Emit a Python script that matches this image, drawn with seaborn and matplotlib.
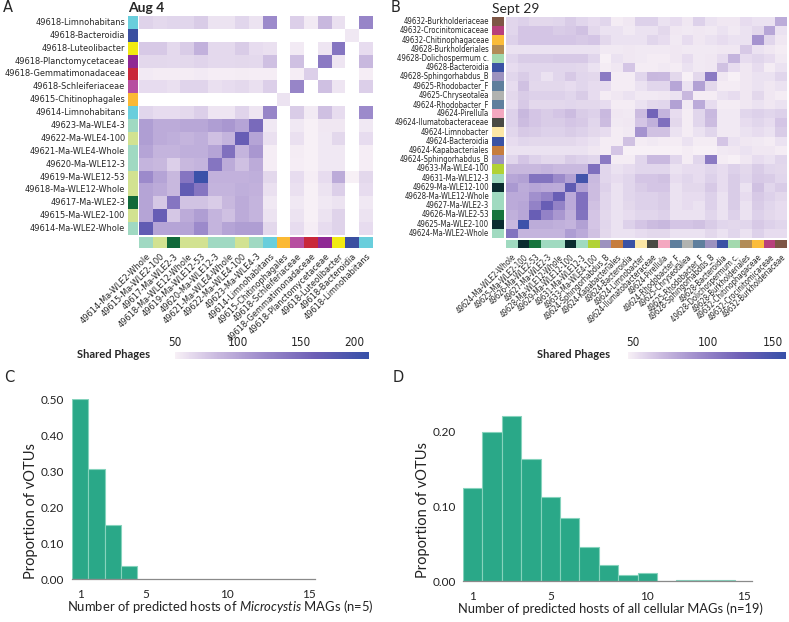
import numpy as np
import matplotlib
matplotlib.use("Agg")
import matplotlib.pyplot as plt
import seaborn as sns
from matplotlib.colors import LinearSegmentedColormap, ListedColormap

sns.set_theme(style="white")
plt.rcParams['font.family'] = ['Lato', 'DejaVu Sans']
plt.rcParams['mathtext.fontset'] = 'custom'
plt.rcParams['mathtext.rm'] = 'Lato'
plt.rcParams['mathtext.it'] = 'Lato:italic'

# ---- panel A: Aug 4 (rows top->bottom, columns left->right) ----
a_rows = ["49618-Limnohabitans", "49618-Bacteroidia", "49618-Luteolibacter",
          "49618-Planctomycetaceae", "49618-Gemmatimonadaceae", "49618-Schleiferiaceae",
          "49615-Chitinophagales", "49614-Limnohabitans", "49623-Ma-WLE4-3",
          "49622-Ma-WLE4-100", "49621-Ma-WLE4-Whole", "49620-Ma-WLE12-3",
          "49619-Ma-WLE12-53", "49618-Ma-WLE12-Whole", "49617-Ma-WLE2-3",
          "49615-Ma-WLE2-100", "49614-Ma-WLE2-Whole"]
a_cols = a_rows[8:][::-1] + a_rows[:8][::-1]
a_shared = [
    [68, 64, 66, 66, 72, 58, 58, 66, 58, 120, 45, 70, 54, 85, 60, 45, 125],
    [46, 46, 46, 46, 47, 47, 46, 46, 46, 45, 45, 45, 45, 46, 47, 55, 45],
    [74, 74, 64, 72, 90, 64, 64, 72, 62, 60, 45, 54, 45, 57, 140, 48, 62],
    [65, 65, 64, 65, 67, 64, 64, 65, 64, 80, 45, 80, 45, 135, 57, 45, 85],
    [54, 53, 53, 53, 54, 52, 52, 53, 52, 52, 45, 52, 70, 48, 48, 45, 52],
    [62, 62, 60, 67, 67, 60, 62, 64, 60, 70, 45, 125, 45, 80, 57, 45, 70],
    [47, 47, 47, 47, 47, 47, 47, 47, 47, 47, 58, 47, 47, 47, 47, 47, 47],
    [66, 62, 62, 64, 70, 57, 57, 67, 57, 125, 45, 72, 54, 80, 62, 45, 120],
    [105, 95, 95, 98, 98, 105, 110, 100, 150, 55, 48, 55, 50, 56, 56, 48, 55],
    [105, 95, 92, 88, 92, 80, 88, 165, 100, 60, 47, 60, 50, 55, 65, 47, 62],
    [100, 88, 88, 92, 92, 100, 145, 88, 110, 52, 47, 53, 50, 55, 55, 47, 52],
    [88, 85, 70, 85, 88, 140, 95, 80, 95, 52, 47, 52, 50, 55, 55, 47, 52],
    [120, 100, 85, 140, 200, 90, 90, 90, 92, 65, 48, 62, 52, 62, 95, 50, 65],
    [100, 95, 85, 170, 140, 88, 88, 92, 90, 60, 47, 60, 50, 58, 70, 48, 62],
    [100, 75, 140, 78, 78, 72, 85, 95, 88, 55, 47, 55, 50, 55, 58, 47, 55],
    [100, 165, 75, 95, 105, 88, 80, 95, 88, 58, 47, 58, 50, 58, 68, 47, 58],
    [170, 100, 100, 100, 120, 88, 100, 105, 105, 65, 47, 62, 52, 62, 68, 47, 62],
]

# ---- panel B: Sept 29 ----
b_rows = ["49632-Burkholderiaceae", "49632-Crocinitomicaceae", "49632-Chitinophagaceae",
          "49628-Burkholderiales", "49628-Dolichospermum c.", "49628-Bacteroidia",
          "49628-Sphingorhabdus_B", "49625-Rhodobacter_F", "49625-Chryseotalea",
          "49624-Rhodobacter_F", "49624-Pirellula", "49624-Ilumatobacteraceae",
          "49624-Limnobacter", "49624-Bacteroidia", "49624-Kapabacteriales",
          "49624-Sphingorhabdus_B", "49633-Ma-WLE4-100", "49631-Ma-WLE12-3",
          "49629-Ma-WLE12-100", "49628-Ma-WLE12-Whole", "49627-Ma-WLE2-3",
          "49626-Ma-WLE2-53", "49625-Ma-WLE2-100", "49624-Ma-WLE2-Whole"]
b_cols = b_rows[::-1]
b_shared = [
    [58, 60, 57, 57, 58, 62, 58, 55, 58, 49, 51, 60, 60, 53, 55, 51, 60, 53, 51, 51, 55, 53, 53, 77],
    [58, 65, 65, 65, 62, 63, 67, 57, 53, 53, 50, 53, 53, 57, 51, 50, 51, 50, 53, 50, 53, 57, 80, 53],
    [60, 65, 65, 65, 65, 65, 63, 65, 57, 53, 53, 53, 58, 55, 50, 55, 51, 53, 55, 53, 53, 90, 58, 51],
    [53, 53, 53, 53, 53, 53, 53, 53, 50, 50, 51, 50, 50, 50, 51, 50, 50, 50, 51, 51, 63, 53, 51, 49],
    [58, 62, 62, 62, 63, 63, 63, 58, 47, 53, 51, 50, 49, 49, 51, 55, 50, 51, 55, 73, 55, 58, 55, 50],
    [55, 58, 58, 58, 58, 58, 57, 53, 49, 51, 65, 49, 49, 50, 49, 53, 50, 51, 67, 55, 51, 55, 49, 53],
    [58, 62, 58, 53, 58, 63, 58, 57, 105, 49, 49, 58, 71, 70, 57, 47, 57, 105, 51, 47, 51, 53, 53, 58],
    [55, 67, 57, 57, 57, 55, 58, 55, 55, 49, 49, 53, 58, 58, 80, 53, 83, 57, 49, 49, 51, 53, 51, 53],
    [57, 62, 60, 60, 60, 58, 62, 55, 49, 51, 53, 50, 50, 51, 53, 71, 49, 49, 53, 55, 51, 57, 51, 49],
    [55, 63, 57, 57, 57, 58, 57, 57, 55, 49, 49, 53, 57, 58, 83, 50, 78, 55, 49, 49, 51, 53, 51, 53],
    [60, 71, 65, 62, 65, 69, 62, 60, 70, 51, 50, 69, 120, 73, 55, 49, 58, 70, 50, 50, 58, 60, 58, 60],
    [60, 69, 65, 62, 62, 65, 63, 58, 69, 50, 51, 65, 75, 112, 57, 49, 58, 69, 50, 50, 55, 58, 55, 65],
    [58, 63, 62, 60, 60, 62, 60, 57, 55, 49, 50, 90, 67, 67, 53, 49, 53, 58, 50, 50, 53, 55, 53, 62],
    [55, 58, 57, 57, 57, 57, 55, 53, 49, 49, 67, 49, 50, 49, 49, 53, 49, 49, 65, 53, 51, 50, 49, 53],
    [53, 53, 53, 53, 53, 53, 53, 51, 49, 65, 47, 47, 47, 47, 47, 49, 47, 47, 50, 51, 53, 51, 51, 49],
    [58, 65, 60, 57, 57, 62, 60, 58, 105, 49, 49, 58, 70, 70, 58, 49, 58, 105, 49, 47, 51, 55, 53, 58],
    [71, 71, 71, 73, 70, 70, 70, 112, 58, 53, 55, 58, 58, 58, 53, 55, 55, 58, 55, 60, 57, 62, 58, 57],
    [80, 83, 110, 110, 95, 83, 145, 70, 58, 55, 58, 65, 65, 67, 55, 58, 55, 60, 55, 62, 58, 63, 62, 58],
    [87, 77, 80, 78, 77, 130, 83, 69, 60, 53, 58, 62, 65, 65, 53, 57, 57, 63, 55, 62, 53, 67, 58, 62],
    [78, 78, 92, 100, 125, 78, 112, 69, 58, 53, 58, 60, 60, 62, 53, 55, 55, 60, 53, 62, 55, 63, 60, 57],
    [78, 80, 100, 125, 100, 78, 112, 67, 58, 53, 57, 60, 60, 62, 53, 55, 53, 60, 53, 62, 53, 62, 58, 55],
    [75, 80, 125, 100, 88, 75, 110, 65, 57, 53, 55, 58, 58, 60, 53, 53, 53, 58, 53, 60, 53, 60, 57, 55],
    [71, 148, 77, 77, 75, 73, 83, 65, 58, 53, 60, 65, 69, 71, 65, 65, 67, 62, 58, 57, 58, 63, 60, 58],
    [110, 73, 73, 73, 73, 85, 78, 67, 57, 53, 53, 55, 57, 57, 53, 53, 53, 57, 53, 58, 53, 60, 55, 55],
]

# ---- panels C and D: host range histograms ----
c_hosts = [1, 2, 3, 4]
c_prop = [0.50, 0.305, 0.15, 0.035]
d_hosts = [1, 2, 3, 4, 5, 6, 7, 8, 9, 10, 11, 12, 13, 14]
d_prop = [0.125, 0.200, 0.221, 0.163, 0.113, 0.085, 0.045, 0.022, 0.008, 0.011,
          0.0, 0.001, 0.002, 0.001]

# strip colours per MAG
mag_colors = {
    "Ma-WLE2-Whole": "#a0d9c2", "Ma-WLE2-100": "#d2e291", "Ma-WLE2-3": "#10693a",
    "Ma-WLE12-Whole": "#d2e291", "Ma-WLE12-53": "#d2e291", "Ma-WLE12-3": "#a0d9c2",
    "Ma-WLE4-Whole": "#a0d9c2", "Ma-WLE4-100": "#d2e291", "Ma-WLE4-3": "#a0d9c2",
    "Limnohabitans": "#69cedc", "Chitinophagales": "#fbb934", "Schleiferiaceae": "#b74ea0",
    "Gemmatimonadaceae": "#c9283a", "Planctomycetaceae": "#8f2894", "Luteolibacter": "#f2ea12",
    "Bacteroidia": "#3a4fa0",
}
b_colors = {
    "49632-Burkholderiaceae": "#7e5646", "49632-Crocinitomicaceae": "#b8407c",
    "49632-Chitinophagaceae": "#fbbc3a", "49628-Burkholderiales": "#b28c57",
    "49628-Dolichospermum c.": "#a3d9ae", "49628-Bacteroidia": "#3a52a4",
    "49628-Sphingorhabdus_B": "#9c92bf", "49625-Rhodobacter_F": "#5f7f9d",
    "49625-Chryseotalea": "#b1b3b0", "49624-Rhodobacter_F": "#5f7f9d",
    "49624-Pirellula": "#f4a8c0", "49624-Ilumatobacteraceae": "#4a4a44",
    "49624-Limnobacter": "#fce7a6", "49624-Bacteroidia": "#3a52a4",
    "49624-Kapabacteriales": "#c67d3e", "49624-Sphingorhabdus_B": "#9c92bf",
    "49633-Ma-WLE4-100": "#b2d235", "49631-Ma-WLE12-3": "#a0dac0",
    "49629-Ma-WLE12-100": "#0b2c2f", "49628-Ma-WLE12-Whole": "#a0dac0",
    "49627-Ma-WLE2-3": "#a0dac0", "49626-Ma-WLE2-53": "#17743d",
    "49625-Ma-WLE2-100": "#0b2c2f", "49624-Ma-WLE2-Whole": "#a0dac0",
}
def a_color(name):
    return mag_colors[name.split("-", 1)[1]]

cmap = LinearSegmentedColormap.from_list(
    "shared", [(0, "#f7f0f6"), (0.08, "#e6dbee"), (0.22, "#c9b9df"),
               (0.45, "#9d8bcb"), (0.72, "#6d5fb6"), (1, "#3650a8")])
cmap.set_under("white")
label_font = ['DejaVu Sans']

W, H = 789, 622
fig = plt.figure(figsize=(W / 100, H / 100), dpi=100)

def box(x0, y0, x1, y1):
    return [x0 / W, 1 - y1 / H, (x1 - x0) / W, (y1 - y0) / H]


def shared_panel(values, rows, cols, rcol, ccol, hm, left, bottom, cb, vmin, vmax, ticks, fs):
    ax = fig.add_axes(box(*hm))
    cax = fig.add_axes(box(*cb))
    sns.heatmap(np.array(values), ax=ax, cmap=cmap, vmin=vmin, vmax=vmax,
                cbar_ax=cax, cbar_kws={"orientation": "horizontal", "ticks": ticks},
                xticklabels=False, yticklabels=False)
    cax.xaxis.set_ticks_position("top")
    cax.tick_params(length=0, pad=2, labelsize=8.5)
    for t in cax.get_xticklabels():
        t.set_fontfamily(label_font)
        t.set_fontstretch("condensed")
    cax.get_xticklabels()[-1].set_ha("right")
    ax.collections[0].colorbar.outline.set_visible(False)

    axl = fig.add_axes(box(*left))
    sns.heatmap(np.arange(len(rows))[:, None], ax=axl, cmap=ListedColormap(rcol),
                cbar=False, xticklabels=False, yticklabels=rows)
    axl.tick_params(axis="y", length=0, pad=2)
    for t in axl.get_yticklabels():
        t.set_rotation(0)
        t.set_fontsize(fs)
        t.set_fontfamily(label_font)
        t.set_fontstretch("condensed")

    axb = fig.add_axes(box(*bottom))
    sns.heatmap(np.arange(len(cols))[None, :], ax=axb, cmap=ListedColormap(ccol),
                cbar=False, xticklabels=cols, yticklabels=False)
    axb.tick_params(axis="x", length=0, pad=3)
    for t in axb.get_xticklabels():
        t.set_rotation(45)
        t.set_ha("right")
        t.set_rotation_mode("anchor")
        t.set_fontsize(fs)
        t.set_fontfamily(label_font)
        t.set_fontstretch("condensed")


shared_panel(a_shared, a_rows, a_cols, [a_color(r) for r in a_rows], [a_color(c) for c in a_cols],
             (139, 16, 373, 235), (128, 16, 138, 235), (139, 236.5, 373, 247.5),
             (175, 352, 369, 359), 50, 204, [50, 100, 150, 200], 6.6)
shared_panel(b_shared, b_rows, b_cols, [b_colors[r] for r in b_rows], [b_colors[c] for c in b_cols],
             (506, 17, 787, 238), (492, 17, 504, 238), (506, 239.5, 787, 248.5),
             (628, 352, 786, 359), 47, 152, [50, 100, 150], 5.6)

fig.text(128 / W, 1 - 8 / H, "Aug 4", fontsize=10, fontweight="bold", va="center")
fig.text(492 / W, 1 - 9 / H, "Sept 29", fontsize=10, va="center")
fig.text(77 / W, 1 - 355 / H, "Shared Phages", fontsize=8, fontweight="bold", va="center")
fig.text(537 / W, 1 - 355 / H, "Shared Phages", fontsize=8, fontweight="bold", va="center")
for lab, x, y in [("A", 3, 8), ("B", 391, 8), ("C", 4, 378), ("D", 393, 378)]:
    fig.text(x / W, 1 - y / H, lab, fontsize=10.5, va="center", family=label_font)

teal = "#2aa888"
edge = "#86d3bd"

def host_hist(hosts, prop, rect, ylim, yticks, xlabel, ylab_pos, xlab_pos, ypad, xfs):
    ax = fig.add_axes(box(*rect))
    sns.histplot(x=hosts, weights=prop, discrete=True, ax=ax, color=teal, alpha=1,
                 edgecolor=edge, linewidth=0.8)
    ax.set_xlim(0.5, 15.4)
    ax.set_ylim(*ylim)
    ax.set_yticks(yticks)
    ax.set_yticklabels([f"{v:.2f}" for v in yticks])
    ax.set_xticks([1, 5, 10, 15])
    sns.despine(ax=ax, left=True)
    ax.spines["bottom"].set_color("#8a8a8a")
    ax.spines["bottom"].set_linewidth(0.9)
    ax.tick_params(axis="x", length=0, pad=7, labelsize=8.5, colors="#222222")
    ax.tick_params(axis="y", length=0, pad=ypad, labelsize=8.5, colors="#222222")
    ax.set_xlabel(xlabel, fontsize=xfs, color="#222222")
    ax.set_ylabel("Proportion of vOTUs", fontsize=10.5, color="#222222")
    ax.xaxis.set_label_coords(*xlab_pos)
    ax.xaxis.label.set_va("center")
    ax.xaxis.label.set_ha("left")
    ax.yaxis.set_label_coords(*ylab_pos)
    ax.yaxis.label.set_va("center")
    return ax

host_hist(c_hosts, c_prop, (72, 399, 315, 579), (0, 0.5), [0, 0.1, 0.2, 0.3, 0.4, 0.5],
          r"Number of predicted hosts of $\it{Microcystis}$ MAGs (n=5)", (-0.17, 0.38),
          (-0.02, -0.155), 6, 9.4)
host_hist(d_hosts, d_prop, (463, 413, 752, 581), (0, 0.225), [0, 0.1, 0.2],
          "Number of predicted hosts of all cellular MAGs (n=19)", (-0.14, 0.42),
          (-0.017, -0.167), 5, 9.3)

fig.savefig("out.png", dpi=100)
